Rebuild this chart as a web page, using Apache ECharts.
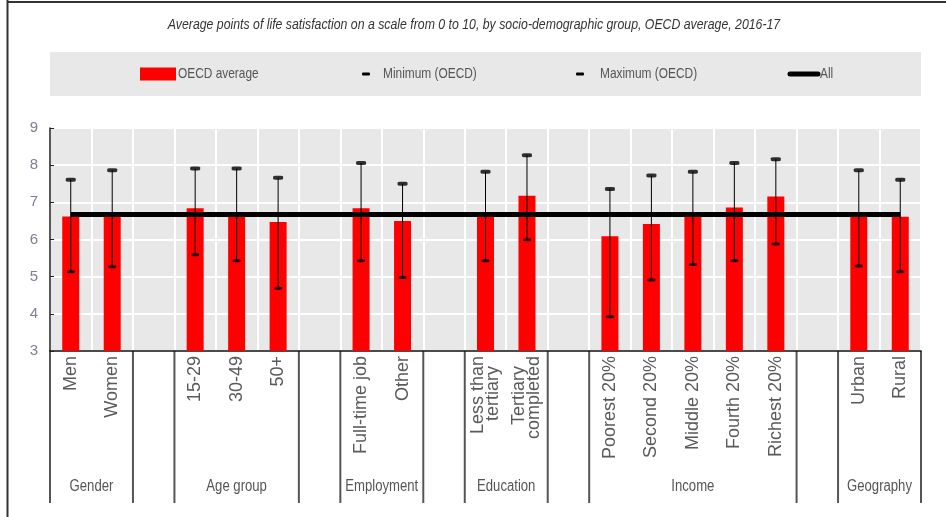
<!DOCTYPE html>
<html>
<head>
<meta charset="utf-8">
<script src="https://cdn.jsdelivr.net/npm/echarts@6/dist/echarts.min.js"></script>
<style>
  html, body { margin: 0; padding: 0; background: #fff; }
  #chart { width: 946px; height: 517px; }
</style>
</head>
<body>
<div id="chart"></div>
<script>
// Categories on the x axis; empty strings are the spacer slots between groups.
const categories = [
  'Men', 'Women', '',
  '15-29', '30-49', '50+', '',
  'Full-time job', 'Other', '',
  'Less than\ntertiary  ', 'Tertiary  \ncompleted', '',
  'Poorest 20%', 'Second 20%', 'Middle 20%', 'Fourth 20%', 'Richest 20%', '',
  'Urban', 'Rural'
];
const oecdAverage = [6.62, 6.65, null, 6.84, 6.65, 6.47, null, 6.84, 6.50, null, 6.65, 7.18, null, 6.09, 6.42, 6.65, 6.86, 7.16, null, 6.65, 6.61];
const minimumOECD = [5.13, 5.27, null, 5.59, 5.43, 4.69, null, 5.43, 4.98, null, 5.43, 5.99, null, 3.92, 4.91, 5.33, 5.43, 5.88, null, 5.29, 5.13];
const maximumOECD = [7.61, 7.86, null, 7.91, 7.91, 7.66, null, 8.06, 7.50, null, 7.82, 8.27, null, 7.36, 7.72, 7.82, 8.06, 8.16, null, 7.86, 7.61];
const allValue = 6.67;

// Socio-demographic groups (first and last category index of each).
const groupNames = ['Gender', 'Age group', 'Employment', 'Education', 'Income', 'Geography'];
const groupFirst = [0, 3, 7, 10, 13, 19];
const groupLast = [1, 5, 8, 11, 17, 20];

const titleText = 'Average points of life satisfaction on a scale from 0 to 10, by socio-demographic group, OECD average, 2016-17';
const legendNames = ['OECD average', 'Minimum (OECD)', 'Maximum (OECD)', 'All'];

const yMin = 3, yMax = 9, yStep = 1;

const sans = "'Liberation Sans', Arial, sans-serif";
const NARROW = 0.82; // horizontal squeeze giving a narrow face from Liberation Sans

const pairs = (arr) => arr.map((v, i) => (v == null ? null : [i, v])).filter(Boolean);

const chart = echarts.init(document.getElementById('chart'), null, { renderer: 'canvas' });

const option = {
  backgroundColor: '#fff',
  animation: false,
  grid: {
    left: 50, right: 25, top: 128, bottom: 166,
    show: true, backgroundColor: '#e8e8e8', borderWidth: 0
  },
  xAxis: {
    type: 'category',
    data: categories,
    boundaryGap: true,
    axisLine: { lineStyle: { color: '#111', width: 1.5 } },
    axisTick: { show: false },
    splitLine: { show: true, interval: 0, lineStyle: { color: '#fff', width: 2 } },
    axisLabel: {
      interval: 0,
      rotate: 90,
      margin: 5,
      fontFamily: sans,
      fontSize: 18,
      lineHeight: 15,
      color: '#5a5a5a'
    }
  },
  yAxis: {
    type: 'value',
    min: yMin,
    max: yMax,
    interval: yStep,
    axisLine: { show: true, lineStyle: { color: '#222', width: 1.5 } },
    axisTick: { show: true, inside: true, length: 4, lineStyle: { color: '#222' } },
    splitLine: { lineStyle: { color: '#fff', width: 2 } },
    axisLabel: { fontFamily: sans, fontSize: 15, color: '#7d8190', margin: 12 }
  },
  series: [
    {
      name: 'OECD average',
      type: 'bar',
      data: oecdAverage,
      barWidth: 17,
      itemStyle: { color: '#ff0000' },
      z: 1
    },
    {
      name: 'All',
      type: 'line',
      data: categories.map(() => allValue),
      symbol: 'none',
      lineStyle: { color: '#000', width: 5 },
      itemStyle: { color: '#000' },
      z: 2
    },
    {
      name: 'range',
      type: 'custom',
      data: minimumOECD.map((v, i) => (v == null ? null : [i, v, maximumOECD[i]])).filter(Boolean),
      renderItem: (params, api) => {
        const lo = api.coord([api.value(0), api.value(1)]);
        const hi = api.coord([api.value(0), api.value(2)]);
        return {
          type: 'line',
          shape: { x1: lo[0], y1: lo[1], x2: hi[0], y2: hi[1] },
          style: { stroke: '#000', lineWidth: 1 }
        };
      },
      silent: true,
      z: 3
    },
    {
      name: 'Minimum (OECD)',
      type: 'scatter',
      data: pairs(minimumOECD),
      symbol: 'roundRect',
      symbolSize: [8, 3],
      itemStyle: { color: '#000' },
      z: 4
    },
    {
      name: 'Maximum (OECD)',
      type: 'scatter',
      data: pairs(maximumOECD),
      symbol: 'roundRect',
      symbolSize: [10, 4],
      itemStyle: { color: '#000' },
      z: 4
    }
  ]
};

chart.setOption(option);

function narrowText(text, x, y, size, opts) {
  return Object.assign({
    type: 'text',
    x: x, y: y,
    scaleX: NARROW,
    style: {
      text: text,
      fontFamily: sans,
      fontSize: size,
      fill: '#555',
      align: 'left',
      verticalAlign: 'middle'
    }
  }, opts || {});
}

// Title, legend, frame, group separators and group names placed around the grid.
function decorate() {
  const cx = (i) => chart.convertToPixel({ xAxisIndex: 0 }, i);
  const slot = cx(1) - cx(0);
  const axisY = chart.convertToPixel({ yAxisIndex: 0 }, yMin);
  const gridLeft = cx(0) - slot / 2;
  const gridRight = cx(categories.length - 1) + slot / 2;
  const elements = [];

  // frame
  elements.push({ type: 'line', shape: { x1: 7.5, y1: 0, x2: 7.5, y2: 517 }, style: { stroke: '#333', lineWidth: 2 } });
  elements.push({ type: 'line', shape: { x1: 7, y1: 2, x2: 946, y2: 2 }, style: { stroke: '#333', lineWidth: 2 } });

  // title
  const t = narrowText(titleText, 474, 25, 15);
  t.style.align = 'center';
  t.style.fontStyle = 'italic';
  t.style.fill = '#333';
  elements.push(t);

  // legend band and entries
  const ly = 74;
  elements.push({
    type: 'rect', z: -1,
    shape: { x: gridLeft, y: 52, width: gridRight - gridLeft, height: 44 },
    style: { fill: '#e8e8e8' }
  });
  elements.push({ type: 'rect', shape: { x: 140, y: ly - 6.5, width: 36, height: 13 }, style: { fill: '#ff0000' } });
  elements.push(narrowText(legendNames[0], 178, ly, 14.5));
  elements.push({ type: 'rect', shape: { x: 362, y: ly - 1.5, width: 8, height: 3, r: 1 }, style: { fill: '#000' } });
  elements.push(narrowText(legendNames[1], 383, ly, 14.5));
  elements.push({ type: 'rect', shape: { x: 576, y: ly - 1.5, width: 8, height: 3, r: 1 }, style: { fill: '#000' } });
  elements.push(narrowText(legendNames[2], 600, ly, 14.5));
  elements.push({ type: 'line', shape: { x1: 790, y1: ly, x2: 818, y2: ly }, style: { stroke: '#000', lineWidth: 5, lineCap: 'round' } });
  elements.push(narrowText(legendNames[3], 820, ly, 14.5));

  // group separators and names
  const seen = new Set();
  groupNames.forEach((name, g) => {
    const left = cx(groupFirst[g]) - slot / 2;
    const right = cx(groupLast[g]) + slot / 2;
    [left, right].forEach((x) => {
      const key = Math.round(x);
      if (seen.has(key)) return;
      seen.add(key);
      elements.push({
        type: 'line',
        shape: { x1: x, y1: axisY, x2: x, y2: axisY + 152 },
        style: { stroke: '#555', lineWidth: 2 }
      });
    });
    const lbl = narrowText(name, (left + right) / 2, axisY + 136, 16);
    lbl.style.align = 'center';
    elements.push(lbl);
  });

  chart.setOption({ graphic: { elements } });
}
decorate();
</script>
</body>
</html>
